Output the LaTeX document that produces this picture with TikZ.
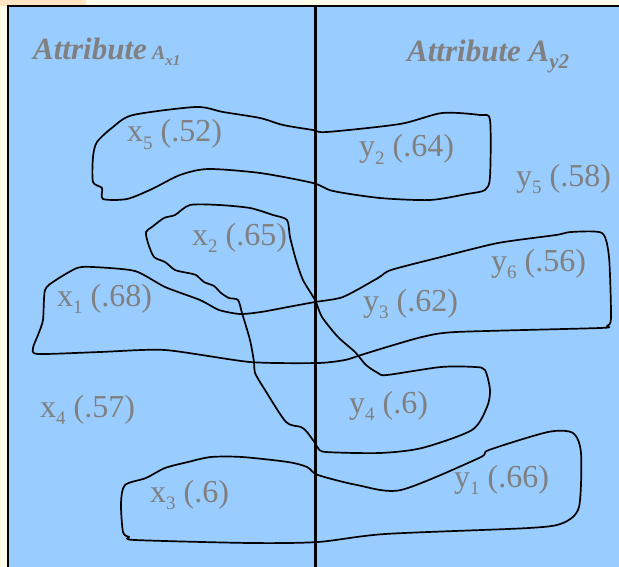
\documentclass[tikz,border=0pt]{standalone}
\usepackage{fontspec}
\setmainfont{Liberation Serif}
\definecolor{bgblue}{HTML}{99CCFF}
\definecolor{cream}{HTML}{FFFDEA}
\definecolor{peach}{HTML}{FFE5C2}
\definecolor{txtgray}{RGB}{128,128,128}
\newcommand{\sbs}[1]{\raisebox{-0.22em}{\fontsize{19}{19}\selectfont #1}}
\begin{document}
\begin{tikzpicture}[x=1pt,y=-1pt,
  loopline/.style={line width=1.7pt, line join=round},
  lbl/.style={text=txtgray, font=\fontsize{32}{32}\selectfont, inner sep=0pt, anchor=base west},
  hdr/.style={text=txtgray, font=\fontsize{31}{31}\selectfont\bfseries\itshape, inner sep=0pt, anchor=base west}]
\useasboundingbox (0,0) rectangle (619,567);
\fill[cream] (0,0) rectangle (619,567);
\fill[peach] (0,0) rectangle (86,6);
\fill[bgblue] (7,6) rectangle (619,567);
\draw[line width=2pt] (7.5,567) -- (7.5,6.5) -- (619,6.5);

% x5 - y2 loop
\draw[loopline] plot[smooth cycle, tension=0.45] coordinates {
 (196,107) (133,115) (113,127) (97,142) (93,157) (93,182) (102,188) (103,199)
 (127,199) (152,189) (180,175) (208,169) (260,173) (313,183) (333,191) (380,198)
 (430,200) (467,194) (485,190) (490,177) (490,120) (480,115) (442,113) (400,124)
 (327,132) (313,130) (283,125) (260,118) (223,112)};

% x2 - y4 loop
\draw[loopline] plot[smooth cycle, tension=0.45] coordinates {
 (190,205) (175,215) (164,218) (152,227) (146,232) (148,243) (154,257) (165,262)
 (175,270) (188,273) (196,275) (204,282) (214,286) (221,293) (229,298) (238,300)
 (242,313) (250,340) (254,362) (255,373) (265,390) (286,422) (301,427) (307,432)
 (315,443) (318,448) (326,452) (380,453) (422,448) (472,430) (487,407) (490,390)
 (485,370) (475,367) (441,367) (387,375) (378,373) (366,365) (355,352) (338,337)
 (322,317) (315,300) (303,280) (296,260) (290,237) (287,220) (273,215) (250,208)
 (219,205)};

% x1 - y3 - y6 loop
\draw[loopline] plot[smooth cycle, tension=0.4] coordinates {
 (33,348) (38,335) (43,320) (45,290) (56,280) (77,268) (93,267) (135,271) (165,287)
 (200,300) (219,310) (240,314) (261,312) (288,307) (315,302) (343,297) (378,278)
 (391,270) (441,257) (498,243) (556,235) (571,232) (602,233) (609,257) (611,318)
 (607,326) (600,328) (456,332) (422,337) (387,347) (361,355) (345,360) (318,363) (250,362)
 (165,350) (100,352) (38,354)};

% x3 - y1 loop
\draw[loopline] plot[smooth cycle, tension=0.45] coordinates {
 (123,532) (121,503) (125,485) (146,478) (165,468) (188,462) (211,457) (242,457)
 (288,462) (307,467) (318,475) (357,485) (401,490) (479,458) (489,450) (548,432)
 (573,433) (581,453) (579,507) (563,523) (529,528) (385,534) (318,542) (250,543)
 (135,540) (129,537)};

\draw[line width=3pt] (315.5,6) -- (315.5,567);

% headers
\node[hdr] (hx) at (33,60) {Attribute\,\fontsize{20}{20}\selectfont A\raisebox{-0.3em}{\fontsize{15}{15}\selectfont x1}};
\node[hdr] (hy) at (407,62) {Attribute A\raisebox{-0.2em}{\fontsize{21}{21}\selectfont y2}};

% labels
\node[lbl] (x5) at (127,142) {x\sbs{5} (.52)};
\node[lbl] (y2) at (359,157) {y\sbs{2} (.64)};
\node[lbl] (y5) at (516,186) {y\sbs{5} (.58)};
\node[lbl] (x2) at (192,245) {x\sbs{2} (.65)};
\node[lbl] (y6) at (491,271) {y\sbs{6} (.56)};
\node[lbl] (x1) at (57,306) {x\sbs{1} (.68)};
\node[lbl] (y3) at (363,311) {y\sbs{3} (.62)};
\node[lbl] (x4) at (40,417) {x\sbs{4} (.57)};
\node[lbl] (y4) at (349,413) {y\sbs{4} (.6)};
\node[lbl] (y1) at (454,487) {y\sbs{1} (.66)};
\node[lbl] (x3) at (150,502) {x\sbs{3} (.6)};
\end{tikzpicture}
\end{document}
